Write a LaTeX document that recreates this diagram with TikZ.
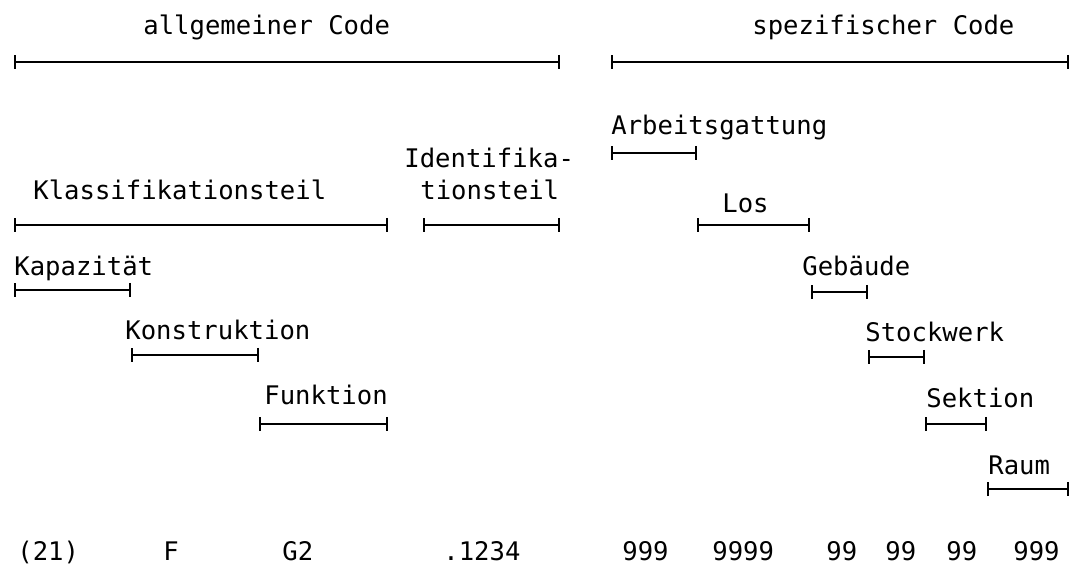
\documentclass[tikz,border=0pt]{standalone}
\usepackage{fontspec}
\setmonofont{DejaVu Sans Mono}
\usetikzlibrary{arrows.meta}

\tikzset{
  lbl/.style={anchor=base west, inner sep=0pt, font=\ttfamily\fontsize{12.8}{14}\selectfont},
  span/.style={line width=0.9pt, {Bar[width=7pt,line width=1.1pt]}-{Bar[width=7pt,line width=1.1pt]}}
}

\begin{document}
\begin{tikzpicture}[x=0.5pt, y=-0.5pt]
  \useasboundingbox (0,0) rectangle (1072,572);
  % Ueberschriften
  \node[lbl] (allg) at (143,35) {allgemeiner Code};
  \node[lbl] (spez) at (752,35) {spezifischer Code};
  \node[lbl] (ident1) at (404,168) {Identifika-};
  \node[lbl] (ident2) at (420,200) {tionsteil};
  \node[lbl] (klass) at (33,200) {Klassifikationsteil};
  \node[lbl] (arb) at (611,135) {Arbeitsgattung};
  \node[lbl] (los) at (722,213) {Los};
  \node[lbl] (kap) at (14,276) {Kapazit\"at};
  \node[lbl] (geb) at (802,276) {Geb\"aude};
  \node[lbl] (kon) at (125,340) {Konstruktion};
  \node[lbl] (stock) at (865,342) {Stockwerk};
  \node[lbl] (fkt) at (264,405) {Funktion};
  \node[lbl] (sekt) at (926,408) {Sektion};
  \node[lbl] (raum) at (988,474) {Raum};
  % Codezeile
  \node[lbl] (c1) at (17,560) {(21)};
  \node[lbl] (c2) at (163,560) {F};
  \node[lbl] (c3) at (282,560) {G2};
  \node[lbl] (c4) at (443,560) {.1234};
  \node[lbl] (c5) at (622,560) {999};
  \node[lbl] (c6) at (712,560) {9999};
  \node[lbl] (c7) at (826,560) {99};
  \node[lbl] (c8) at (885,560) {99};
  \node[lbl] (c9) at (946,560) {99};
  \node[lbl] (c10) at (1013,560) {999};
  % Endpunkte
  \coordinate (a0) at (14,62);   \coordinate (a1) at (560,62);
  \coordinate (s0) at (611,62);  \coordinate (s1) at (1069,62);
  \coordinate (k0) at (14,225);  \coordinate (k1) at (388,225);
  \coordinate (i0) at (423,225); \coordinate (i1) at (560,225);
  \coordinate (ag0) at (611,153); \coordinate (ag1) at (697,153);
  \coordinate (l0) at (697,225); \coordinate (l1) at (810,225);
  \coordinate (g0) at (811,292); \coordinate (g1) at (868,292);
  \coordinate (st0) at (868,357); \coordinate (st1) at (925,357);
  \coordinate (se0) at (925,424); \coordinate (se1) at (987,424);
  \coordinate (r0) at (987,489); \coordinate (r1) at (1069,489);
  \coordinate (ka0) at (14,290); \coordinate (ka1) at (131,290);
  \coordinate (ko0) at (131,355); \coordinate (ko1) at (259,355);
  \coordinate (f0) at (259,424); \coordinate (f1) at (388,424);
  \path[span]
  (a0) edge (a1)
  (s0) edge (s1)
  (k0) edge (k1)
  (i0) edge (i1)
  (ag0) edge (ag1)
  (l0) edge (l1)
  (g0) edge (g1)
  (st0) edge (st1)
  (se0) edge (se1)
  (r0) edge (r1)
  (ka0) edge (ka1)
  (ko0) edge (ko1)
  (f0) edge (f1)
  ;
\end{tikzpicture}
\end{document}
